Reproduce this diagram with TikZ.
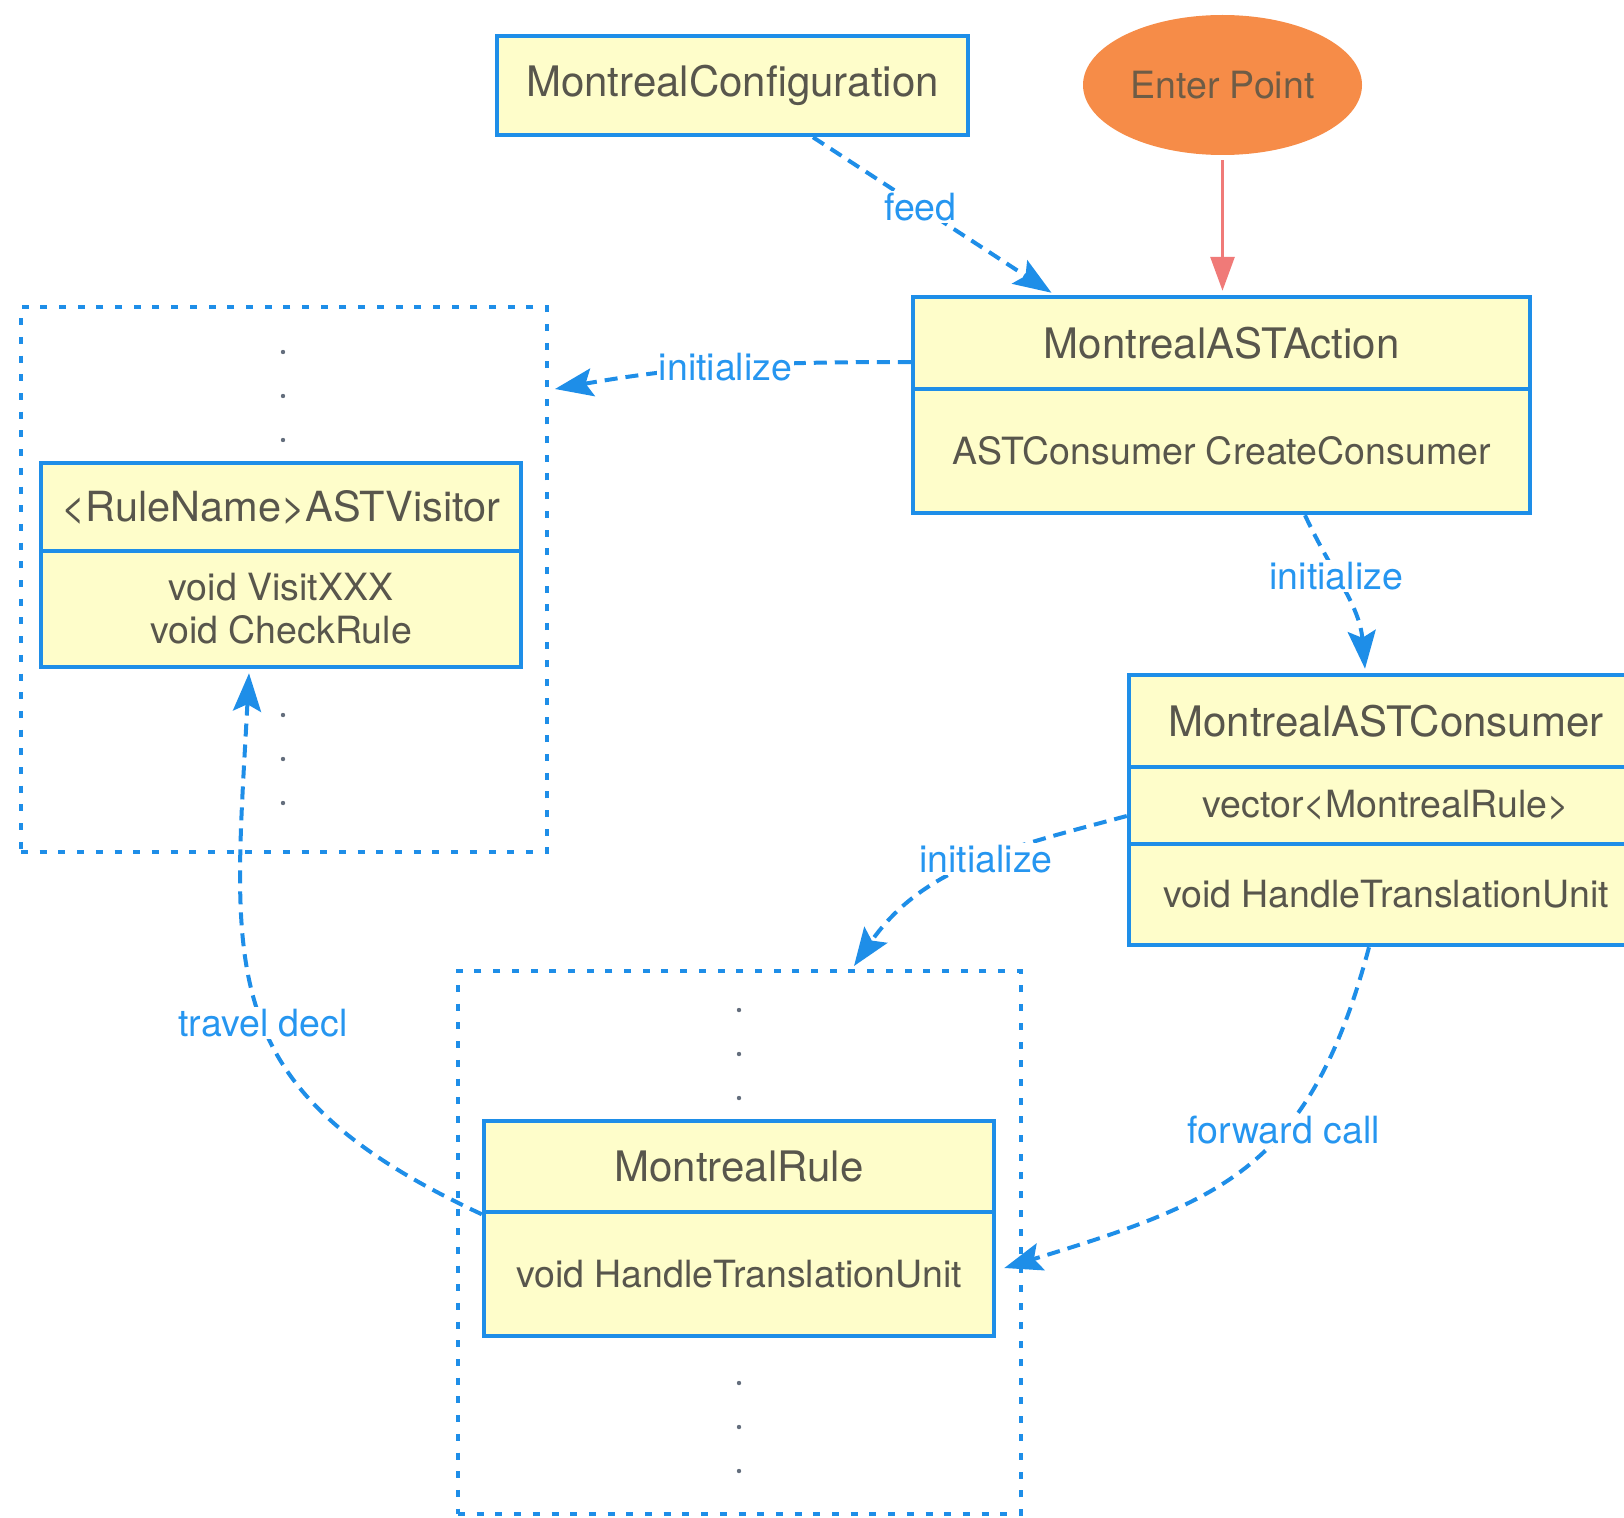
\documentclass[tikz,border=0pt]{standalone}
\usepackage{fontspec}
\setmainfont{TeX Gyre Heros}
\usetikzlibrary{arrows.meta,shapes.geometric}

\definecolor{boxfill}{RGB}{254,253,202}
\definecolor{boxline}{RGB}{30,142,232}
\definecolor{boxtext}{RGB}{88,86,76}
\definecolor{linkblue}{RGB}{38,150,240}
\definecolor{entryfill}{RGB}{246,140,72}
\definecolor{entrytext}{RGB}{110,92,70}
\definecolor{entryline}{RGB}{240,122,120}
\definecolor{dotgray}{RGB}{100,110,125}

\begin{document}
\begin{tikzpicture}[x=1pt,y=-1pt,
  titlefont/.style={font=\fontsize{42}{48}\selectfont},
  bodyfont/.style={font=\fontsize{37.5}{43}\selectfont},
  compartment/.style={draw=boxline,line width=4.5pt,fill=boxfill,text=boxtext,
    inner sep=0pt,align=center},
  groupbox/.style={draw=boxline,line width=4pt,dash pattern=on 7pt off 11.7pt,
    inner sep=0pt},
  link/.style={draw=boxline,line width=4pt,dash pattern=on 13pt off 8pt,
    -{Stealth[length=38pt,width=28pt,inset=7pt]}},
  lbl/.style={fill=white,text=linkblue,inner sep=2pt,bodyfont},
  entryarrow/.style={draw=entryline,line width=3pt,
    -{Triangle[length=34pt,width=24pt]}},
  ellipsis/.style={fill=dotgray}
]
\useasboundingbox (0,0) rectangle (1624,1517);
\clip (0,0) rectangle (1624,1517);

% dashed groups holding the visitors and the rules
\node[groupbox,minimum width=526pt,minimum height=545pt] (vgroup) at (284,579.5) {};
\node[groupbox,minimum width=563pt,minimum height=543pt] (rgroup) at (739.5,1242.5) {};

% ellipsis marks inside the groups
\foreach \y in {352,396,440,715,759,803} \fill[ellipsis] (283,\y) circle (2.2);
\foreach \y in {1010,1054,1098,1383,1427,1471} \fill[ellipsis] (739,\y) circle (2.2);

% configuration and entry point
\node[compartment,titlefont,minimum width=471pt,minimum height=99pt] (conf)
  at (732.5,85.5) {MontrealConfiguration};
\node[ellipse,fill=entryfill,text=entrytext,bodyfont,inner sep=0pt,
  minimum width=279pt,minimum height=140pt] (entry) at (1222.5,85) {Enter Point};

% MontrealASTAction
\node[compartment,titlefont,minimum width=617pt,minimum height=92pt] (act)
  at (1221.5,343) {MontrealASTAction};
\node[compartment,bodyfont,minimum width=617pt,minimum height=124pt] (actb)
  at (1221.5,451) {ASTConsumer CreateConsumer};

% <RuleName>ASTVisitor
\node[compartment,font=\fontsize{41.5}{46}\selectfont,minimum width=480pt,minimum height=88pt] (vis)
  at (281,507) {<RuleName>ASTVisitor};
\node[compartment,bodyfont,minimum width=480pt,minimum height=116pt] (visb)
  at (281,609) {void VisitXXX\\void CheckRule};

% MontrealASTConsumer
\node[compartment,titlefont,minimum width=514pt,minimum height=92pt] (cons)
  at (1386,721) {MontrealASTConsumer};
\node[compartment,bodyfont,minimum width=514pt,minimum height=77pt] (consv)
  at (1386,805.5) {vector<MontrealRule>};
\node[compartment,bodyfont,minimum width=514pt,minimum height=101pt] (consb)
  at (1386,894.5) {void HandleTranslationUnit};

% MontrealRule
\node[compartment,titlefont,minimum width=510pt,minimum height=91pt] (rule)
  at (739,1166.5) {MontrealRule};
\node[compartment,bodyfont,minimum width=510pt,minimum height=124pt] (ruleb)
  at (739,1274) {void HandleTranslationUnit};

% connectors
\draw[entryarrow] ([yshift=-5pt]entry.south) -- ([yshift=4pt]act.north -| entry.south);

\draw[link] ([xshift=80.5pt]conf.south) -- node[lbl,pos=0.45] {feed}
  ([xshift=-170pt,yshift=2pt]act.north);

\draw[link] ([yshift=-19pt]act.west) to[out=180,in=10]
  node[lbl,pos=0.52] {initialize} ([xshift=6pt,yshift=-84pt]vgroup.north east);

\draw[link] ([xshift=83.5pt]actb.south) to[out=-65,in=95]
  node[lbl,pos=0.4] {initialize} ([xshift=-21pt,yshift=4pt]cons.north);

\draw[link] ([yshift=-10.5pt]consv.west) to[out=195,in=55]
  node[lbl,pos=0.45] {initialize} ([xshift=114.5pt,yshift=3pt]rgroup.north);

\draw[link] ([xshift=-17pt]consb.south) to[out=-105,in=17,looseness=1.2]
  node[lbl,pos=0.38] {forward call} ([xshift=8pt,yshift=6pt]ruleb.east);

\draw[link] (rule.south west) to[out=155,in=-93,looseness=1.3]
  node[lbl,pos=0.47] {travel decl} ([xshift=-32pt,yshift=-4pt]visb.south);
\end{tikzpicture}
\end{document}
